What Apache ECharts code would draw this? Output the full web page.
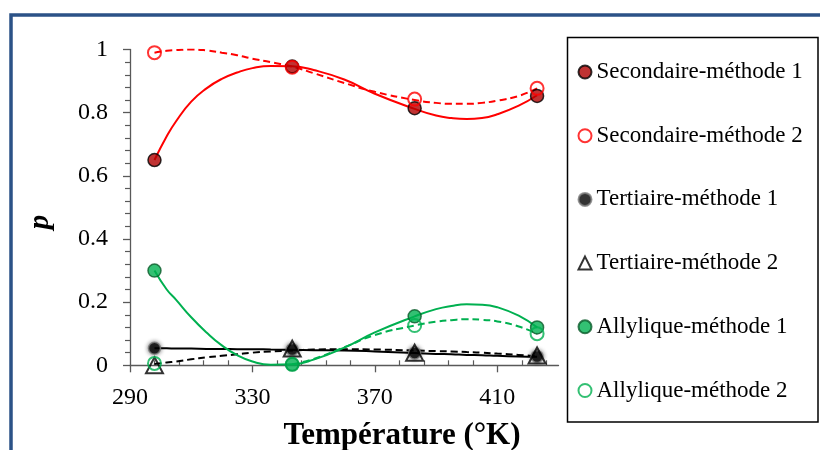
<!DOCTYPE html>
<html>
<head>
<meta charset="utf-8">
<script src="https://cdn.jsdelivr.net/npm/echarts@6/dist/echarts.min.js"></script>
<style>
html,body{margin:0;padding:0;background:#fff;}
#chart{width:820px;height:450px;}
</style>
</head>
<body>
<div id="chart"></div>
<script>
// ---- data ----
const temps = [298, 343, 383, 423];
const xTickLabels = [290, 330, 370, 410];
const seriesNames = [
  'Secondaire-méthode 1', 'Secondaire-méthode 2',
  'Tertiaire-méthode 1', 'Tertiaire-méthode 2',
  'Allylique-méthode 1', 'Allylique-méthode 2'
];
const secM1 = [0.650, 0.946, 0.814, 0.853];
const secM2 = [0.990, 0.944, 0.843, 0.877];
const terM1 = [0.054, 0.050, 0.039, 0.028];
const terM2 = [0.000, 0.053, 0.040, 0.031];
const allM1 = [0.300, 0.003, 0.155, 0.120];
const allM2 = [0.006, 0.003, 0.126, 0.100];

// trend curves
const trendT      = [298, 302, 305, 310, 315, 320, 325, 330, 336, 343, 350, 360, 370, 383, 390, 395, 400, 405, 410, 417, 423];
const secM1Trend  = [0.650, 0.725, 0.772, 0.835, 0.877, 0.907, 0.927, 0.941, 0.948, 0.947, 0.935, 0.905, 0.860, 0.812, 0.791, 0.783, 0.780, 0.783, 0.795, 0.822, 0.855];
const secM2Trend  = [0.990, 0.996, 0.998, 1.000, 0.997, 0.990, 0.982, 0.971, 0.960, 0.946, 0.925, 0.894, 0.866, 0.840, 0.831, 0.828, 0.828, 0.831, 0.838, 0.853, 0.877];
const terM1Trend  = [0.054, 0.054, 0.053, 0.053, 0.052, 0.052, 0.051, 0.051, 0.050, 0.049, 0.048, 0.047, 0.044, 0.039, 0.036, 0.035, 0.033, 0.032, 0.030, 0.028, 0.027];
const terM2Trend  = [0.004, 0.009, 0.012, 0.019, 0.025, 0.030, 0.035, 0.040, 0.044, 0.047, 0.050, 0.051, 0.050, 0.047, 0.045, 0.044, 0.042, 0.040, 0.037, 0.033, 0.028];
const allM1Trend  = [0.300, 0.240, 0.208, 0.152, 0.104, 0.063, 0.032, 0.012, 0.002, 0.003, 0.018, 0.056, 0.104, 0.155, 0.178, 0.188, 0.193, 0.192, 0.184, 0.157, 0.120];
const allM2Trend  = [null, null, null, null, null, null, null, null, null, 0.003, 0.020, 0.057, 0.096, 0.126, 0.138, 0.143, 0.146, 0.144, 0.139, 0.123, 0.100];

// ---- styles ----
const SERIF = "'Liberation Serif','Times New Roman',serif";
const RED = '#FF0000', GREEN = '#00B050', BLACK = '#000000';
const axisColor = '#595959';

function pairs(xs, ys) { return xs.map((x, i) => [x, ys[i]]); }

function trend(name, ys, color, dashed) {
  return {
    name: name, type: 'line', data: pairs(trendT, ys), smooth: 0.5,
    symbol: 'none', connectNulls: false, silent: true, z: 2,
    lineStyle: { color: color, width: 2, type: dashed ? [7, 4] : 'solid' }
  };
}
function marks(name, ys, symbol, size, itemStyle, z) {
  return {
    name: name, type: 'scatter', data: pairs(temps, ys), symbol: symbol,
    symbolSize: size, itemStyle: itemStyle, clip: false, z: z
  };
}

const chart = echarts.init(document.getElementById('chart'), null, { renderer: 'canvas' });
chart.setOption({
  backgroundColor: '#ffffff',
  animation: false,
  grid: { left: 130, top: 49.5, right: 261.5, bottom: 84.7, containLabel: false },
  xAxis: {
    type: 'value', min: 290, max: 430, interval: 40,
    axisLine: { show: true, onZero: false, lineStyle: { color: axisColor, width: 1.3 } },
    axisTick: { show: true, length: 7, customValues: xTickLabels, lineStyle: { color: axisColor, width: 1.3 } },
    minorTick: { show: true, splitNumber: 5, length: -5, lineStyle: { color: axisColor, width: 1.2 } },
    axisLabel: { customValues: xTickLabels, fontFamily: SERIF, fontSize: 24, color: '#000', margin: 20 },
    splitLine: { show: false }
  },
  yAxis: {
    type: 'value', min: 0, max: 1, interval: 0.2,
    axisLine: { show: true, lineStyle: { color: axisColor, width: 1.3 } },
    axisTick: { show: true, length: 7, lineStyle: { color: axisColor, width: 1.3 } },
    minorTick: { show: true, splitNumber: 5, length: 5, lineStyle: { color: axisColor, width: 1.2 } },
    axisLabel: { fontFamily: SERIF, fontSize: 24, color: '#000', margin: 22 },
    splitLine: { show: false }
  },
  legend: {
    data: seriesNames, orient: 'vertical', left: 577.5, top: 60.5, padding: 0,
    itemWidth: 13, itemHeight: 13, itemGap: 40.7, itemTextGap: 4.5,
    textStyle: { fontFamily: SERIF, fontSize: 23, color: '#000' }
  },
  graphic: [
    { type: 'rect', z: 100, silent: true,
      shape: { x: 11, y: 15, width: 900, height: 500 },
      style: { fill: 'none', stroke: '#2B5287', lineWidth: 3.5 } },
    { type: 'rect', z: 100, silent: true,
      shape: { x: 567.5, y: 37.5, width: 250.5, height: 384.5 },
      style: { fill: 'none', stroke: '#000', lineWidth: 1.5 } },
    { type: 'text', z: 100, silent: true, x: 41, y: 222, rotation: Math.PI / 2,
      style: { text: 'p', font: "italic bold 29px 'Liberation Serif'", fill: '#000',
               textAlign: 'center', textVerticalAlign: 'middle' } },
    { type: 'text', z: 100, silent: true, x: 402, y: 436,
      style: { text: 'Température (°K)', font: "bold 31px 'Liberation Serif'", fill: '#000',
               textAlign: 'center', textVerticalAlign: 'middle' } }
  ],
  series: [
    trend('t1', secM1Trend, RED, false),
    trend('t2', secM2Trend, RED, true),
    trend('t3', terM1Trend, BLACK, false),
    trend('t4', terM2Trend, BLACK, true),
    trend('t5', allM1Trend, GREEN, false),
    trend('t6', allM2Trend, GREEN, true),
    marks(seriesNames[0], secM1, 'circle', 13, { color: '#B00000', borderColor: '#000', borderWidth: 1.5 }, 5),
    marks(seriesNames[1], secM2, 'circle', 13, { color: 'rgba(255,255,255,0)', borderColor: RED, borderWidth: 2 }, 6),
    marks(seriesNames[2], terM1, 'circle', 12, { color: '#000', borderColor: '#7F7F7F', borderWidth: 1.5, shadowBlur: 4, shadowColor: 'rgba(0,0,0,0.55)' }, 7),
    marks(seriesNames[3], terM2, 'triangle', [17, 16], { color: 'rgba(255,255,255,0)', borderColor: '#000', borderWidth: 2 }, 8),
    marks(seriesNames[4], allM1, 'circle', 13, { color: GREEN, borderColor: '#0B5A2A', borderWidth: 1.5 }, 9),
    marks(seriesNames[5], allM2, 'circle', 13, { color: 'rgba(255,255,255,0)', borderColor: GREEN, borderWidth: 2 }, 10)
  ]
});
</script>
</body>
</html>
